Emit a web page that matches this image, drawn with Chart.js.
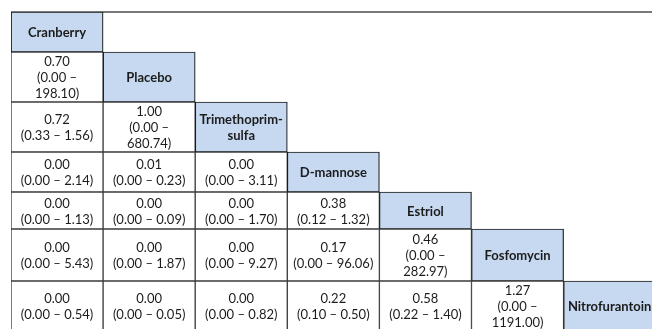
<!DOCTYPE html>
<html>
<head>
<meta charset="utf-8">
<script src="https://cdn.jsdelivr.net/npm/chart.js@4/dist/chart.umd.min.js"></script>
<style>
  html, body { margin: 0; padding: 0; background: #ffffff; }
  canvas { display: block; }
</style>
</head>
<body>
<canvas id="league" width="652" height="329"></canvas>
<script>
// Treatments along the diagonal of the league table
const treatments = ['Cranberry', 'Placebo', 'Trimethoprim-sulfa', 'D-mannose', 'Estriol', 'Fosfomycin', 'Nitrofurantoin'];

// Lower triangle: row treatment (index r+1) versus column treatment (index c)
const oddsRatio = [
  [0.70],
  [0.72, 1.00],
  [0.00, 0.01, 0.00],
  [0.00, 0.00, 0.00, 0.38],
  [0.00, 0.00, 0.00, 0.17, 0.46],
  [0.00, 0.00, 0.00, 0.22, 0.58, 1.27]
];
const ciLower = [
  [0.00],
  [0.33, 0.00],
  [0.00, 0.00, 0.00],
  [0.00, 0.00, 0.00, 0.12],
  [0.00, 0.00, 0.00, 0.00, 0.00],
  [0.00, 0.00, 0.00, 0.10, 0.22, 0.00]
];
const ciUpper = [
  [198.10],
  [1.56, 680.74],
  [2.14, 0.23, 3.11],
  [1.13, 0.09, 1.70, 1.32],
  [5.43, 1.87, 9.27, 96.06, 282.97],
  [0.54, 0.05, 0.82, 0.50, 1.40, 1191.00]
];

// Layout: height of each table row in y-axis units
const rowHeights = [40, 50, 50, 40, 37, 52, 50];

const HEADER_FILL = '#c6d9f0';
const GRID = '#3c3c3c';
const STEP = '#1a1a1a';
const FONT = 'Lato, "Open Sans", sans-serif';

// Row edges from the row heights
const rowEdges = [0];
rowHeights.forEach(h => rowEdges.push(rowEdges[rowEdges.length - 1] + h));

// One floating bar per table cell
const cells = [];
treatments.forEach((name, r) => {
  for (let c = 0; c <= r; c++) {
    const diag = c === r;
    let text;
    if (diag) {
      text = [name];
    } else {
      const v = oddsRatio[r - 1][c];
      const lo = ciLower[r - 1][c];
      const hi = ciUpper[r - 1][c];
      text = [v.toFixed(2), '(' + lo.toFixed(2) + ' \u2013 ' + hi.toFixed(2) + ')'];
    }
    cells.push({ x: c + 0.5, y: [rowEdges[r], rowEdges[r + 1]], diag, text });
  }
});

// Greedy wrap on spaces and after hyphens
function wrapText(ctx, text, maxWidth) {
  const pieces = [];
  text.split(' ').forEach((word, wi) => {
    const parts = word.length > 1 ? word.split(/(?<=-)/) : [word];
    parts.forEach((p, pi) => pieces.push({ s: p, sep: (wi > 0 && pi === 0) ? ' ' : '' }));
  });
  const lines = [];
  let cur = '';
  pieces.forEach(p => {
    if (cur === '') { cur = p.s; return; }
    const trial = cur + p.sep + p.s;
    if (ctx.measureText(trial).width > maxWidth) {
      lines.push(cur);
      cur = p.s;
    } else {
      cur = trial;
    }
  });
  if (cur !== '') lines.push(cur);
  return lines;
}

const topRule = {
  id: 'topRule',
  beforeDatasetsDraw(chart) {
    const { ctx, scales: { x, y } } = chart;
    const y0 = y.getPixelForValue(0);
    ctx.save();
    ctx.strokeStyle = '#7a7a7a';
    ctx.lineWidth = 2;
    ctx.beginPath();
    ctx.moveTo(x.getPixelForValue(0), y0);
    ctx.lineTo(chart.width, y0);
    ctx.stroke();
    ctx.restore();
  }
};

const cellText = {
  id: 'cellText',
  afterDatasetsDraw(chart) {
    const ctx = chart.ctx;
    const meta = chart.getDatasetMeta(0);
    ctx.save();
    ctx.textAlign = 'center';
    ctx.textBaseline = 'middle';
    ctx.fillStyle = '#1c1c1c';
    meta.data.forEach((bar, i) => {
      const cell = cells[i];
      const { x, y, base, width } = bar.getProps(['x', 'y', 'base', 'width'], true);
      const cy = (y + base) / 2;
      ctx.font = (cell.diag ? 'bold ' : '') + '13px ' + FONT;
      const lines = [];
      cell.text.forEach(t => lines.push(...wrapText(ctx, t, width - 8)));
      const lh = 16;
      lines.forEach((ln, k) => {
        ctx.fillText(ln, x, cy + (k - (lines.length - 1) / 2) * lh + 1);
      });
    });
    ctx.restore();
  }
};

new Chart(document.getElementById('league'), {
  type: 'bar',
  data: {
    datasets: [{
      data: cells,
      backgroundColor: c => (c.raw && c.raw.diag) ? HEADER_FILL : '#ffffff',
      borderColor: c => (c.raw && c.raw.diag) ? STEP : GRID,
      borderWidth: c => (c.raw && c.raw.diag) ? 1.2 : 1,
      borderSkipped: false,
      categoryPercentage: 1,
      barPercentage: 1
    }]
  },
  options: {
    responsive: false,
    animation: false,
    events: [],
    layout: { padding: { left: 11, top: 12, right: 0, bottom: 0 } },
    plugins: { legend: { display: false }, tooltip: { enabled: false } },
    scales: {
      x: {
        type: 'linear', display: false, offset: false,
        min: 0, max: 6.96,
        ticks: { stepSize: 1, includeBounds: false }
      },
      y: {
        type: 'linear', display: false, reverse: true,
        min: 0, max: 317,
        ticks: { includeBounds: false }
      }
    }
  },
  plugins: [topRule, cellText]
});
</script>
</body>
</html>
